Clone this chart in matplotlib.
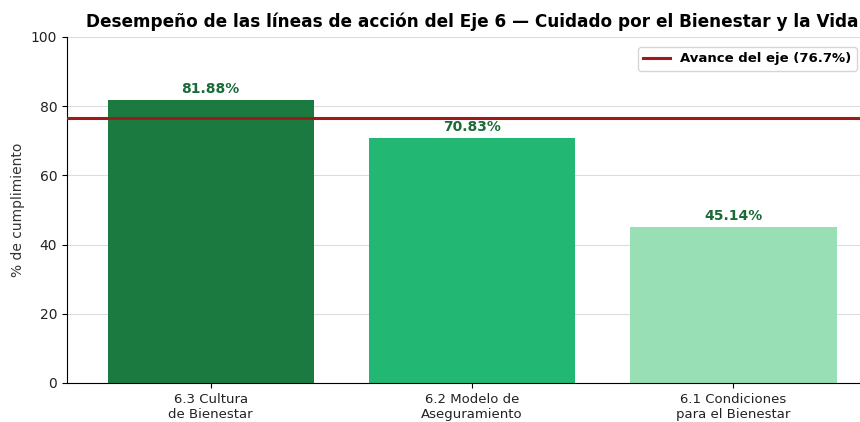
import numpy as np
import matplotlib.pyplot as plt

categorias = ['6.3 Cultura\nde Bienestar', '6.2 Modelo de\nAseguramiento', '6.1 Condiciones\npara el Bienestar']
valores = [81.88, 70.83, 45.14]
colores = ['#1b7a40', '#22b874', '#98dfb5']
avance_eje = 76.7

fig = plt.figure(figsize=(8.6, 4.22), dpi=100)
ax = fig.add_axes([67/860, 1 - 383/422, (877 - 67)/860, (383 - 37)/422])

x = np.arange(len(categorias))
bars = ax.bar(x, valores, width=0.79, color=colores, zorder=2)
ax.axhline(avance_eje, color='#9e1b1b', linewidth=2.2, zorder=3,
           label=f'Avance del eje ({avance_eje:.1f}%)')

for b, v in zip(bars, valores):
    ax.text(b.get_x() + b.get_width()/2, v + 1.2, f'{v:.2f}%', ha='center', va='bottom',
            fontsize=10, fontweight='bold', color='#1b6b38')

ax.set_xlim(-0.55, 2.55)
ax.set_ylim(0, 100)
ax.set_xticks(x)
ax.set_xticklabels(categorias, fontsize=9.5, color='#222222')
ax.tick_params(axis='y', labelsize=10, labelcolor='#222222')
ax.set_ylabel('% de cumplimiento', fontsize=10, color='#333333')
ax.yaxis.grid(True, color='#dddddd', linewidth=0.8, zorder=0)
ax.spines['top'].set_visible(False)
ax.spines['right'].set_visible(False)
ax.set_title('Desempeño de las líneas de acción del Eje 6 — Cuidado por el Bienestar y la Vida',
             fontsize=12.2, fontweight='bold', pad=7)
leg = ax.legend(loc='upper right', bbox_to_anchor=(0.983, 0.99),
                prop={'weight': 'bold', 'size': 9.5}, frameon=True)

fig.savefig('out.png', dpi=100)
